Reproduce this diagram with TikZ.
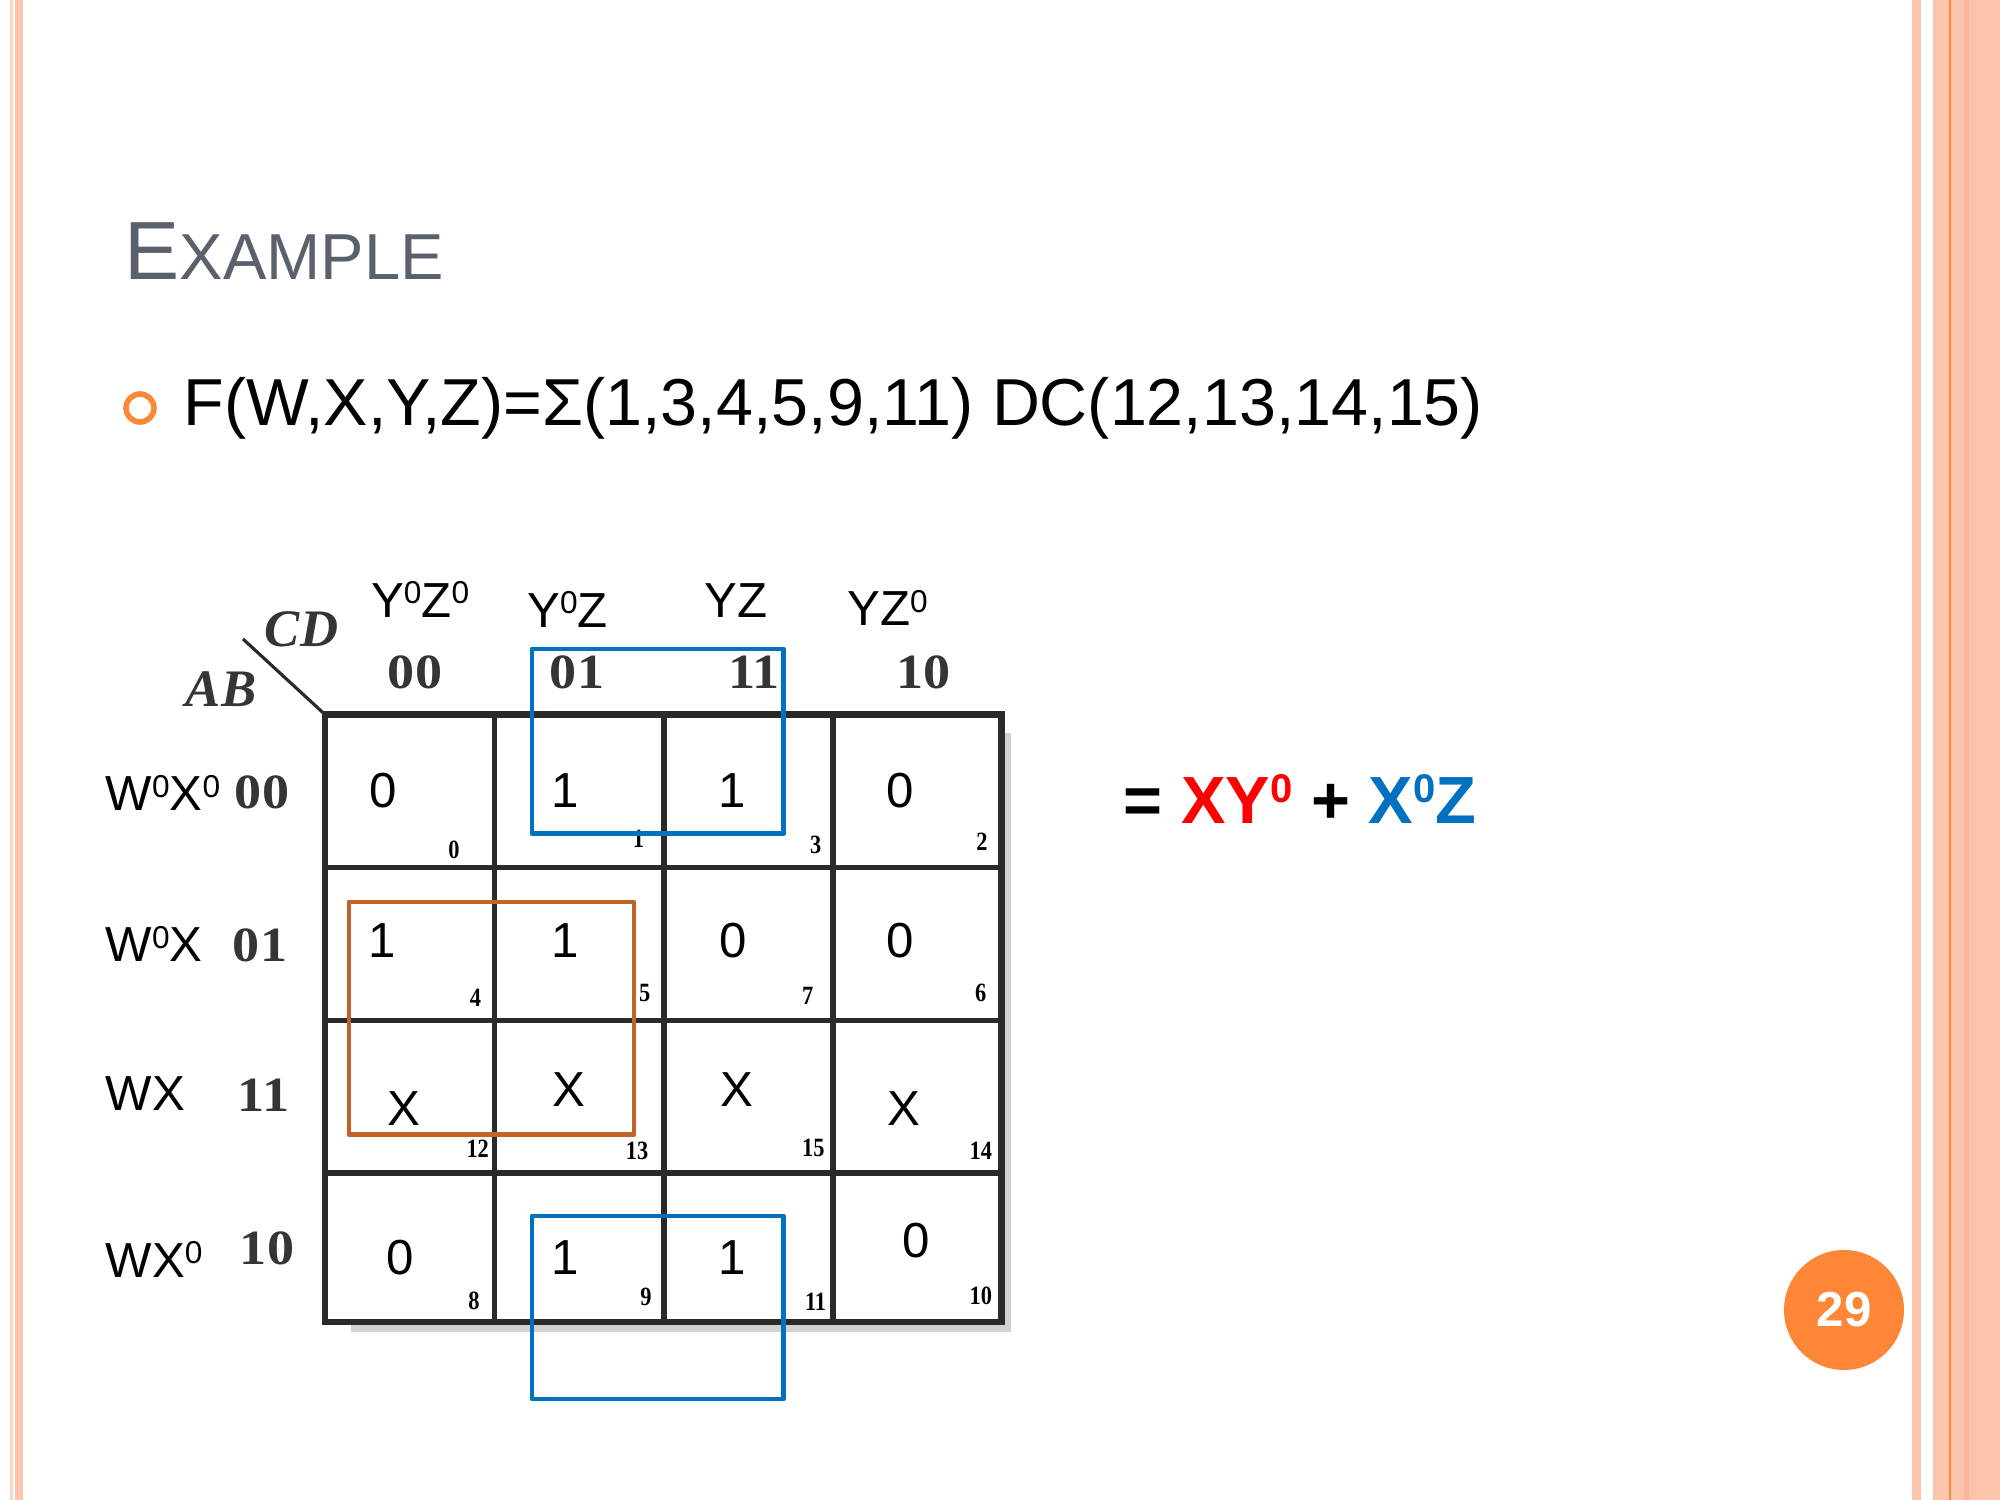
\documentclass[tikz,border=0pt]{standalone}
\usepackage{fontspec}
\setmainfont{Liberation Sans}
\newfontfamily\bookfont{Liberation Serif}
\newfontfamily\idxfont[FakeStretch=0.85]{Liberation Serif}
\newfontfamily\headfont[FakeStretch=1.1]{Liberation Serif}

\definecolor{slidesalmon}{HTML}{FCC4AD}
\definecolor{slidepale}{HTML}{FDD6C6}
\definecolor{slidedark}{HTML}{FAB598}
\definecolor{slideorange}{HTML}{FD8637}
\definecolor{titlegray}{HTML}{5A606C}
\definecolor{kmapline}{HTML}{2A2A2A}
\definecolor{kmapshadow}{HTML}{D2D2D2}
\definecolor{kmaptext}{HTML}{353535}
\definecolor{grpblue}{HTML}{0070C0}
\definecolor{grpbrown}{HTML}{C0622B}
\definecolor{termred}{HTML}{FF0000}

\newcommand{\supz}[2]{\raisebox{#2}{\fontsize{#1}{#1}\selectfont 0}}

\tikzset{
	every picture/.append style={x=0.1mm,y=-0.1mm},
	titletext/.style = {inner sep=0pt, text=titlegray},
	bulletring/.style = {circle, draw=slideorange, line width=1.6pt, minimum size=2.8mm, inner sep=0pt},
	bullettext/.style = {inner sep=0pt, font=\fontsize{18.9}{18.9}\selectfont},
	resulttext/.style = {inner sep=0pt, font=\bfseries\fontsize{19}{19}\selectfont},
	pagenum/.style = {circle, fill=slideorange, minimum size=12mm, inner sep=0pt, text=white, font=\bfseries\fontsize{14}{14}\selectfont},
	varlabel/.style = {inner sep=0pt, font=\fontsize{14}{14}\selectfont},
	binlabel/.style = {inner sep=0pt, text=kmaptext, font=\headfont\bfseries\fontsize{14}{14}\selectfont},
	axislabel/.style = {inner sep=0pt, text=kmaptext, font=\bookfont\bfseries\itshape\fontsize{15}{15}\selectfont},
	cellval/.style = {inner sep=0pt, font=\fontsize{14}{14}\selectfont},
	cellidx/.style = {inner sep=0pt, font=\idxfont\bfseries\fontsize{7.5}{7.5}\selectfont},
	kmapgrid/.style = {draw=kmapline, line width=1.5pt},
	kmapframe/.style = {draw=kmapline, line width=1.8pt},
	grpbox/.style = {line width=1.4pt, line join=round}
}

\begin{document}
\begin{tikzpicture}
	\useasboundingbox (0,0) rectangle (2000,1500);
	% slide borders
	\fill[slidepale] (10,0) rectangle (12.7,1500);
	\fill[slidesalmon] (15,0) rectangle (22.7,1500);
	\fill[slidesalmon] (1912,0) rectangle (1921,1500);
	\fill[slidesalmon] (1933,0) rectangle (2000,1500);
	\fill[slidedark] (1964,0) rectangle (1969,1500);
	\fill[slideorange] (1949,0) rectangle (1951,1500);

	% title and bullet
	\node[titletext, anchor=base west] at (124,280) (title) {\fontsize{23.5}{23.5}\selectfont E\fontsize{18.5}{18.5}\selectfont XAMPLE};
	\node[bulletring] at (140,408) (bullet) {};
	\node[bullettext, anchor=base west] at (183,426) (func) {F(W,X,Y,Z)=Σ(1,3,4,5,9,11) DC(12,13,14,15)};

	% k-map shadow and grid
	\fill[kmapshadow] (1001.5,733) rectangle (1011,1332);
	\fill[kmapshadow] (351,1322) rectangle (1011,1332);
	\draw[kmapgrid] (494.5,714.5) -- (494.5,1322);
	\draw[kmapgrid] (664,714.5) -- (664,1322);
	\draw[kmapgrid] (833,714.5) -- (833,1322);
	\draw[kmapgrid] (325,867.5) -- (1001.5,867.5);
	\draw[kmapgrid] (325,1020.5) -- (1001.5,1020.5);
	\draw[kmapgrid] (325,1173) -- (1001.5,1173);
	\draw[kmapframe] (325,714.5) rectangle (1001.5,1322);
	\coordinate (corner) at (325,714.5);
	\coordinate (slash) at (243,639);
	\draw[draw=kmapline, line width=0.9pt] (slash) -- (corner);

	% axis labels
	\node[axislabel] at (301.5,629.5) (cd) {CD};
	\node[axislabel] at (221,689) (ab) {AB};

	% column headers
	\node[varlabel, anchor=base west] at (370.4,617) (c00) {Y\supz{9}{3.7pt}Z\supz{9}{3.7pt}};
	\node[varlabel, anchor=base west] at (526.7,627) (c01) {Y\supz{9}{3.7pt}Z};
	\node[varlabel, anchor=base west] at (704,617) (c11) {YZ};
	\node[varlabel, anchor=base west] at (846.5,626) (c10) {YZ\supz{9}{3.7pt}};
	\node[binlabel] at (415,672) (b00) {00};
	\node[binlabel] at (577,672) (b01) {01};
	\node[binlabel] at (754,672) (b11) {11};
	\node[binlabel] at (923.5,672) (b10) {10};

	% row headers
	\node[varlabel, anchor=base west] at (105,811) (r00) {W\supz{9}{3.7pt}X\supz{9}{3.7pt}};
	\node[varlabel, anchor=base west] at (105,962) (r01) {W\supz{9}{3.7pt}X};
	\node[varlabel, anchor=base west] at (105,1110) (r11) {WX};
	\node[varlabel, anchor=base west] at (105,1277) (r10) {WX\supz{9}{3.7pt}};
	\node[binlabel] at (262,792) (a00) {00};
	\node[binlabel] at (260,945.5) (a01) {01};
	\node[binlabel] at (263.5,1095) (a11) {11};
	\node[binlabel] at (267,1248.5) (a10) {10};

	% cell values
	\node[cellval] at (383.5,791) (v0) {0};
	\node[cellval] at (565.6,791) (v1) {1};
	\node[cellval] at (732,791) (v3) {1};
	\node[cellval] at (900.4,791) (v2) {0};
	\node[cellval] at (382.6,940.5) (v4) {1};
	\node[cellval] at (565.6,940.5) (v5) {1};
	\node[cellval] at (733,940.5) (v7) {0};
	\node[cellval] at (900.4,940.5) (v6) {0};
	\node[cellval] at (403.6,1108.4) (v12) {X};
	\node[cellval] at (569,1089.7) (v13) {X};
	\node[cellval] at (736.6,1089.7) (v15) {X};
	\node[cellval] at (903.6,1108.4) (v14) {X};
	\node[cellval] at (400.4,1257.6) (v8) {0};
	\node[cellval] at (565.6,1257.6) (v9) {1};
	\node[cellval] at (732,1257.6) (v11) {1};
	\node[cellval] at (916,1241) (v10) {0};

	% minterm numbers
	\node[cellidx] at (454,850) (i0) {0};
	\node[cellidx] at (638.4,839) (i1) {1};
	\node[cellidx] at (815.6,845) (i3) {3};
	\node[cellidx] at (982,842) (i2) {2};
	\node[cellidx] at (475.4,997.7) (i4) {4};
	\node[cellidx] at (644.6,992.7) (i5) {5};
	\node[cellidx] at (807.6,995.6) (i7) {7};
	\node[cellidx] at (980.8,992.7) (i6) {6};
	\node[cellidx] at (477.7,1148.6) (i12) {12};
	\node[cellidx] at (637,1151) (i13) {13};
	\node[cellidx] at (813.4,1147.8) (i15) {15};
	\node[cellidx] at (980.8,1151) (i14) {14};
	\node[cellidx] at (474,1301) (i8) {8};
	\node[cellidx] at (646,1297) (i9) {9};
	\node[cellidx] at (815.6,1302) (i11) {11};
	\node[cellidx] at (980.8,1296) (i10) {10};

	% groups
	\draw[grpbox, grpbrown] (349,902) rectangle (634,1134.5);
	\draw[grpbox, grpblue] (532,649) rectangle (783.5,833.5);
	\draw[grpbox, grpblue] (532,1216) rectangle (783.5,1399);

	% result
	\node[resulttext, anchor=base west] at (1123,823) (result) {= \textcolor{termred}{XY\supz{11.4}{5.8pt}} + \textcolor{grpblue}{X\supz{11.4}{5.8pt}Z}};

	% page number
	\node[pagenum] at (1844,1310) (page) {29};
\end{tikzpicture}
\end{document}
